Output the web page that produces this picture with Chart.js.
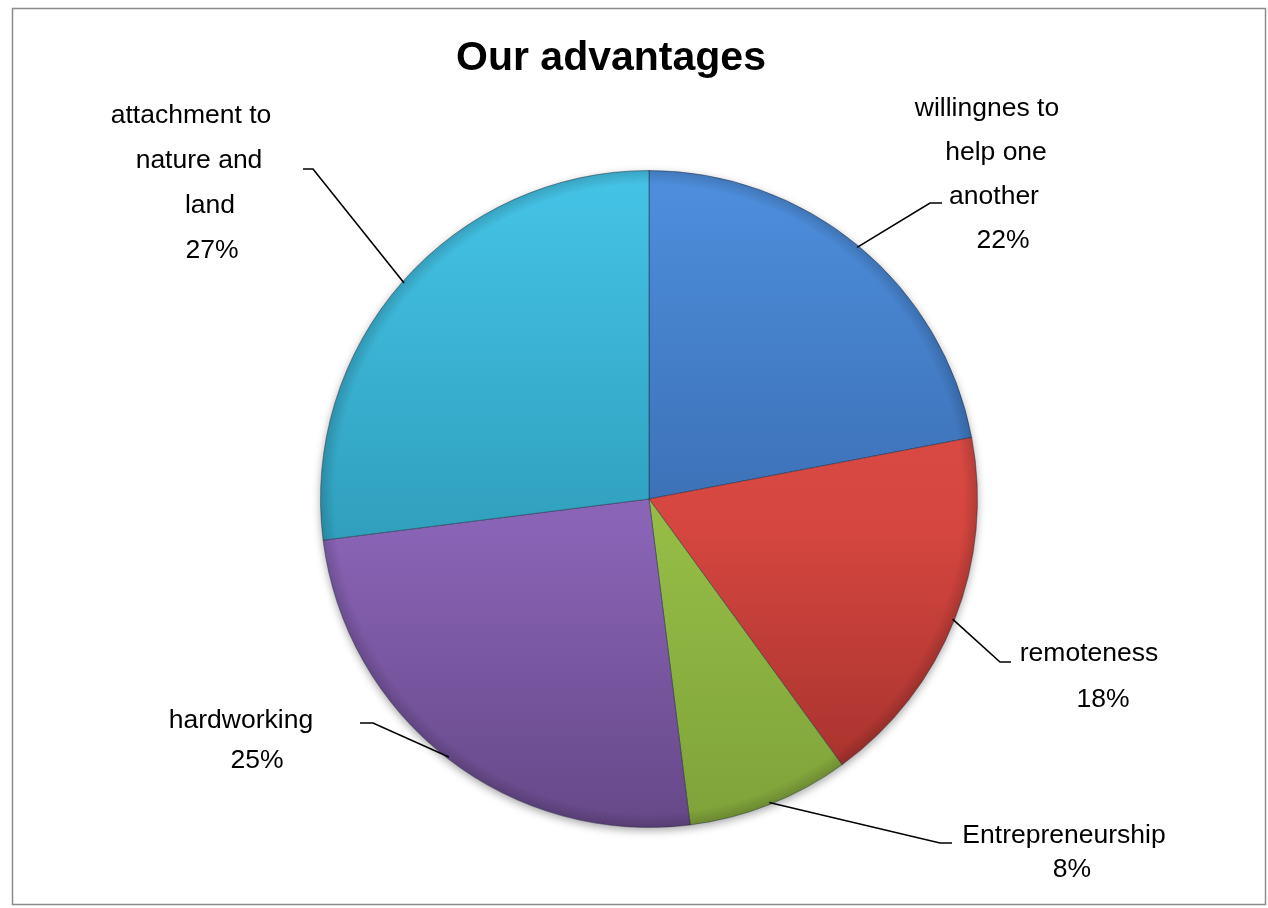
<!DOCTYPE html>
<html>
<head>
<meta charset="utf-8">
<title>Our advantages</title>
<script src="https://cdn.jsdelivr.net/npm/chart.js@4.4.1/dist/chart.umd.min.js"></script>
<style>
    html, body { margin: 0; padding: 0; background: #fff; }
    #wrap { position: relative; width: 1268px; height: 908px; }
</style>
</head>
<body>
<div id="wrap"><canvas id="advantages-chart" width="1268" height="908"></canvas></div>
<script>
// Chart data
const chartTitle = 'Our advantages';
const categories = [
    'willingnes to help one another',
    'remoteness',
    'Entrepreneurship',
    'hardworking',
    'attachment to nature and land'
];
const shares = [22, 18, 8, 25, 27];

// Slice colours (top / middle / bottom of the vertical shading)
const topColors = ['#4e8fdd', '#e2534c', '#a3cb50', '#9671c6', '#45c4e7'];
const midColors = ['#3b6fb4', '#d4463f', '#94bc45', '#8963b5', '#30a0be'];
const bottomColors = ['#2f5a98', '#9e2e2a', '#7fa23a', '#664888', '#2a88a4'];

// Label placement, Excel style (text centre, per-line shift, first baseline, line height, wrap width, leader elbow)
const labelLayout = [
    { cx: 995, dx: [-8, 1, -1, 8], y: 116, lh: 44, wrap: 160, elbow: [930, 203], end: 942 },
    { cx: 1089, dx: [0, 14], y: 661, lh: 46, wrap: 160, elbow: [1000, 662], end: 1011 },
    { cx: 1064, dx: [0, 8], y: 843, lh: 34, wrap: 230, elbow: [940, 843], end: 952 },
    { cx: 241, dx: [0, 16], y: 728, lh: 40, wrap: 160, elbow: [373, 723], end: 360 },
    { cx: 191, dx: [0, 8, 19, 21], y: 123, lh: 45, wrap: 170, elbow: [313, 169], end: 303 }
];

const labelFont = '26.5px "Liberation Sans", Arial, sans-serif';

function wrapText(ctx, text, maxWidth) {
    const words = text.split(' ');
    const lines = [];
    let line = '';
    words.forEach(function(w) {
        const test = line ? line + ' ' + w : w;
        if (line && ctx.measureText(test).width > maxWidth) {
            lines.push(line);
            line = w;
        } else {
            line = test;
        }
    });
    if (line) lines.push(line);
    return lines;
}

const decorPlugin = {
    id: 'decor',
    beforeDraw: function(chart) {
        const ctx = chart.ctx;
        ctx.save();
        ctx.fillStyle = '#ffffff';
        ctx.fillRect(0, 0, chart.width, chart.height);
        ctx.strokeStyle = '#8c8c8c';
        ctx.lineWidth = 1.5;
        ctx.strokeRect(12.5, 8.5, 1253, 896);

        ctx.fillStyle = '#000000';
        ctx.font = 'bold 41px "Liberation Sans", Arial, sans-serif';
        ctx.textAlign = 'center';
        ctx.textBaseline = 'alphabetic';
        ctx.fillText(chartTitle, 611, 70);
        ctx.restore();
    },
    beforeDatasetsDraw: function(chart) {
        const arc = chart.getDatasetMeta(0).data[0];
        if (!arc) return;
        const ctx = chart.ctx;
        ctx.save();
        ctx.shadowColor = 'rgba(0, 0, 0, 0.35)';
        ctx.shadowBlur = 9;
        ctx.shadowOffsetY = 3;
        ctx.fillStyle = '#ffffff';
        ctx.beginPath();
        ctx.arc(arc.x, arc.y, arc.outerRadius, 0, Math.PI * 2);
        ctx.fill();
        ctx.restore();
    },
    afterDatasetsDraw: function(chart) {
        const ctx = chart.ctx;
        const arcs = chart.getDatasetMeta(0).data;
        if (!arcs.length) return;
        const cx = arcs[0].x;
        const cy = arcs[0].y;
        const r = arcs[0].outerRadius;

        // soft bevel at the rim
        ctx.save();
        const rim = ctx.createRadialGradient(cx, cy, r - 14, cx, cy, r);
        rim.addColorStop(0, 'rgba(0, 0, 0, 0)');
        rim.addColorStop(1, 'rgba(0, 0, 0, 0.16)');
        ctx.fillStyle = rim;
        ctx.beginPath();
        ctx.arc(cx, cy, r, 0, Math.PI * 2);
        ctx.fill();
        ctx.restore();

        // leader lines and labels
        ctx.save();
        ctx.font = labelFont;
        ctx.textAlign = 'center';
        ctx.textBaseline = 'alphabetic';
        arcs.forEach(function(a, i) {
            const p = a.getProps(['x', 'y', 'startAngle', 'endAngle', 'outerRadius'], true);
            const mid = (p.startAngle + p.endAngle) / 2;
            const sx = p.x + Math.cos(mid) * (p.outerRadius - 2);
            const sy = p.y + Math.sin(mid) * (p.outerRadius - 2);
            const lay = labelLayout[i];

            ctx.strokeStyle = '#000000';
            ctx.lineWidth = 1.6;
            ctx.beginPath();
            ctx.moveTo(sx, sy);
            ctx.lineTo(lay.elbow[0], lay.elbow[1]);
            ctx.lineTo(lay.end, lay.elbow[1]);
            ctx.stroke();

            const lines = wrapText(ctx, categories[i], lay.wrap);
            lines.push(shares[i] + '%');
            ctx.fillStyle = '#000000';
            lines.forEach(function(line, k) {
                ctx.fillText(line, lay.cx + (lay.dx[k] || 0), lay.y + k * lay.lh);
            });
        });
        ctx.restore();
    }
};

document.addEventListener('DOMContentLoaded', function() {
    const canvas = document.getElementById('advantages-chart');

    new Chart(canvas, {
        type: 'pie',
        data: {
            labels: categories,
            datasets: [{
                data: shares,
                backgroundColor: function(context) {
                    const i = context.dataIndex;
                    const area = context.chart.chartArea;
                    if (!area) return midColors[i];
                    const g = context.chart.ctx.createLinearGradient(0, area.top, 0, area.bottom);
                    g.addColorStop(0, topColors[i]);
                    g.addColorStop(0.55, midColors[i]);
                    g.addColorStop(1, bottomColors[i]);
                    return g;
                },
                borderColor: 'rgba(25, 35, 55, 0.45)',
                borderWidth: 1
            }]
        },
        options: {
            responsive: false,
            animation: false,
            events: [],
            layout: {
                padding: { top: 170, bottom: 80, left: 319, right: 289 }
            },
            plugins: {
                legend: { display: false },
                title: { display: false },
                tooltip: { enabled: false }
            }
        },
        plugins: [decorPlugin]
    });
});
</script>
</body>
</html>
